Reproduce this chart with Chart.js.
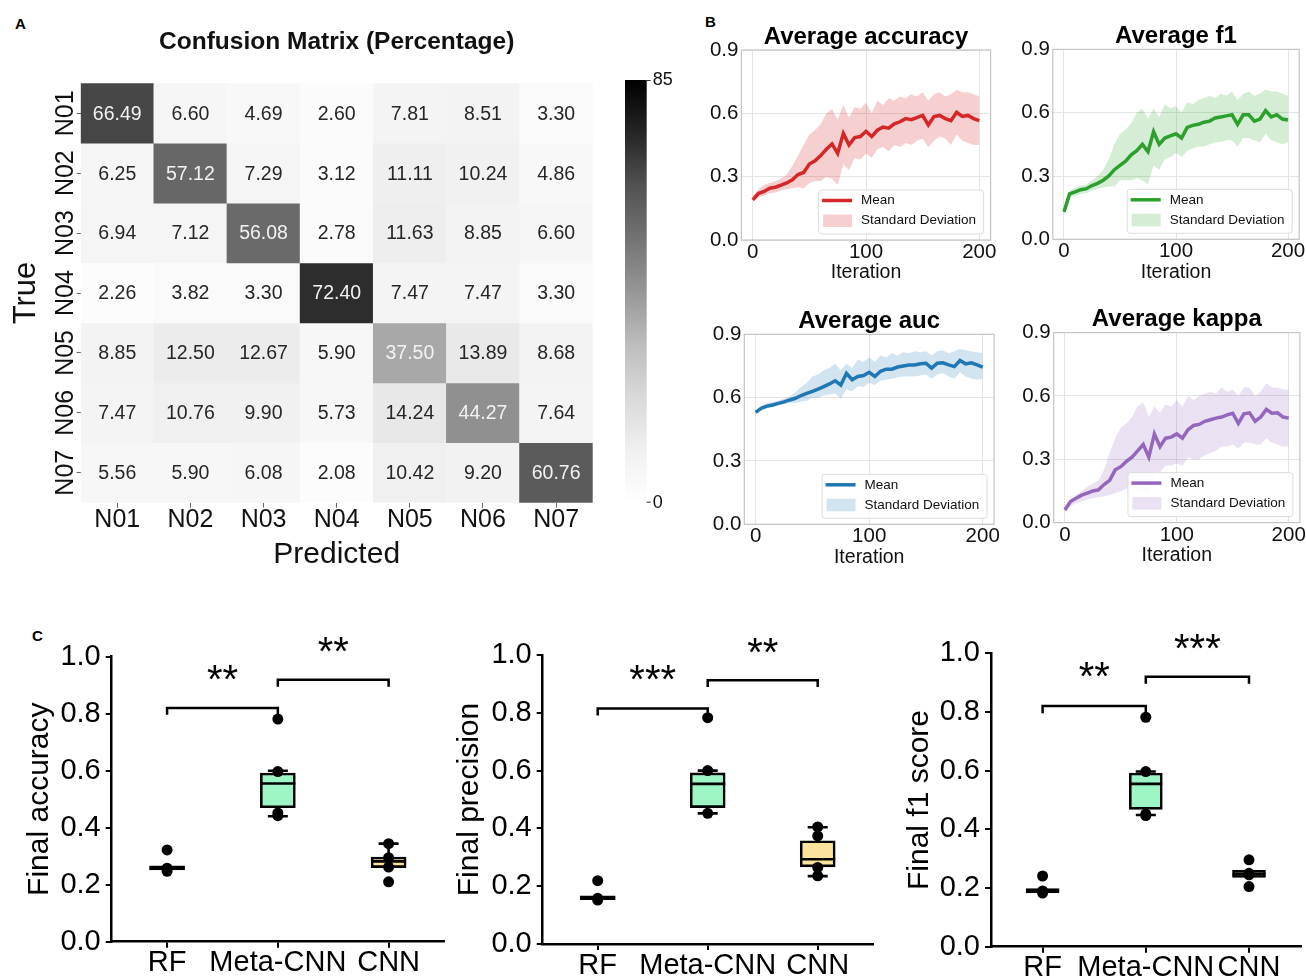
<!DOCTYPE html>
<html><head><meta charset="utf-8"><title>Figure</title>
<script src="https://cdn.jsdelivr.net/npm/chart.js@4.4.1/dist/chart.umd.min.js"></script>
<style>
html,body{margin:0;padding:0;background:#fff}
body{width:1306px;height:978px;position:relative;overflow:hidden;font-family:'Liberation Sans',Arial,sans-serif}
canvas{position:absolute}
.pl{position:absolute;font-weight:bold;font-size:15px;color:#000;line-height:1}
</style></head><body>
<div class="pl" style="left:15px;top:16px">A</div>
<div class="pl" style="left:705px;top:14px">B</div>
<div class="pl" style="left:32px;top:628px">C</div>
<canvas id="cm" width="700" height="580" style="left:0;top:0"></canvas>
<canvas id="lAcc" width="300" height="288" style="left:700px;top:0"></canvas>
<canvas id="lF1" width="306" height="288" style="left:1000px;top:0"></canvas>
<canvas id="lAuc" width="300" height="288" style="left:700px;top:285px"></canvas>
<canvas id="lKap" width="306" height="286" style="left:1000px;top:285px"></canvas>
<canvas id="bAcc" width="445" height="353" style="left:0;top:625px"></canvas>
<canvas id="bPrec" width="435" height="353" style="left:445px;top:625px"></canvas>
<canvas id="bF1" width="426" height="353" style="left:880px;top:625px"></canvas>
<script>
// ---------------- DATA ----------------
const cmLabels = ['N01','N02','N03','N04','N05','N06','N07'];
const cmN01 = [66.49, 6.60, 4.69, 2.60, 7.81, 8.51, 3.30];
const cmN02 = [6.25, 57.12, 7.29, 3.12, 11.11, 10.24, 4.86];
const cmN03 = [6.94, 7.12, 56.08, 2.78, 11.63, 8.85, 6.60];
const cmN04 = [2.26, 3.82, 3.30, 72.40, 7.47, 7.47, 3.30];
const cmN05 = [8.85, 12.50, 12.67, 5.90, 37.50, 13.89, 8.68];
const cmN06 = [7.47, 10.76, 9.90, 5.73, 14.24, 44.27, 7.64];
const cmN07 = [5.56, 5.90, 6.08, 2.08, 10.42, 9.20, 60.76];
const cmRange = [0, 85];

const iterations = [0,5,10,15,20,25,30,35,40,45,50,55,60,65,70,75,80,85,90,95,100,105,110,115,120,125,130,135,140,145,150,155,160,165,170,175,180,185,190,195,200];
const iterTicks = [0,100,200];
const metricTicks = [0,0.3,0.6,0.9];

const accMean  = [0.19,0.22,0.23,0.245,0.25,0.26,0.27,0.285,0.31,0.32,0.36,0.375,0.40,0.43,0.455,0.41,0.505,0.45,0.485,0.49,0.515,0.49,0.52,0.535,0.53,0.55,0.56,0.575,0.57,0.58,0.59,0.545,0.585,0.59,0.575,0.565,0.605,0.585,0.59,0.575,0.565];
const accUpper = [0.21,0.24,0.26,0.27,0.28,0.29,0.31,0.35,0.40,0.45,0.50,0.52,0.55,0.60,0.62,0.57,0.64,0.58,0.63,0.62,0.65,0.60,0.66,0.64,0.67,0.66,0.68,0.67,0.69,0.68,0.70,0.66,0.69,0.70,0.68,0.69,0.71,0.70,0.70,0.69,0.68];
const accLower = [0.18,0.20,0.21,0.22,0.225,0.235,0.24,0.245,0.25,0.245,0.27,0.28,0.28,0.30,0.29,0.26,0.36,0.33,0.39,0.38,0.41,0.39,0.43,0.44,0.42,0.45,0.44,0.46,0.45,0.47,0.48,0.44,0.47,0.49,0.48,0.45,0.50,0.47,0.46,0.45,0.45];

const f1Mean  = [0.13,0.215,0.225,0.235,0.24,0.255,0.265,0.28,0.30,0.33,0.35,0.37,0.40,0.42,0.45,0.415,0.51,0.45,0.48,0.49,0.50,0.48,0.53,0.54,0.545,0.555,0.56,0.575,0.58,0.585,0.59,0.545,0.59,0.59,0.56,0.57,0.61,0.58,0.59,0.57,0.565];
const f1Upper = [0.14,0.23,0.245,0.255,0.26,0.28,0.30,0.33,0.38,0.45,0.50,0.52,0.55,0.60,0.62,0.57,0.62,0.58,0.64,0.62,0.63,0.60,0.65,0.64,0.66,0.67,0.68,0.67,0.69,0.68,0.70,0.66,0.69,0.70,0.68,0.69,0.71,0.70,0.70,0.69,0.68];
const f1Lower = [0.12,0.20,0.205,0.215,0.22,0.23,0.24,0.245,0.25,0.25,0.28,0.28,0.28,0.29,0.28,0.26,0.35,0.33,0.38,0.39,0.41,0.39,0.42,0.43,0.44,0.44,0.45,0.46,0.46,0.47,0.47,0.44,0.48,0.48,0.47,0.46,0.50,0.47,0.46,0.45,0.46];

const aucMean  = [0.53,0.55,0.56,0.565,0.573,0.58,0.589,0.597,0.61,0.62,0.63,0.64,0.652,0.665,0.68,0.66,0.715,0.685,0.70,0.705,0.72,0.70,0.725,0.735,0.735,0.745,0.75,0.755,0.755,0.76,0.763,0.74,0.763,0.765,0.755,0.747,0.776,0.76,0.765,0.755,0.745];
const aucUpper = [0.54,0.56,0.575,0.58,0.585,0.595,0.605,0.625,0.65,0.67,0.70,0.71,0.73,0.74,0.76,0.73,0.76,0.74,0.78,0.77,0.79,0.77,0.80,0.79,0.81,0.80,0.815,0.81,0.82,0.815,0.82,0.80,0.82,0.825,0.81,0.82,0.83,0.825,0.82,0.815,0.81];
const aucLower = [0.52,0.54,0.55,0.555,0.565,0.57,0.575,0.575,0.58,0.585,0.60,0.60,0.61,0.615,0.62,0.595,0.64,0.63,0.655,0.65,0.67,0.66,0.68,0.685,0.69,0.695,0.70,0.70,0.70,0.705,0.71,0.69,0.71,0.715,0.70,0.69,0.72,0.70,0.69,0.685,0.69];

const kapMean  = [0.06,0.10,0.115,0.13,0.14,0.15,0.155,0.18,0.20,0.25,0.265,0.29,0.31,0.34,0.37,0.31,0.42,0.36,0.40,0.405,0.42,0.40,0.44,0.46,0.465,0.48,0.487,0.495,0.50,0.51,0.518,0.47,0.515,0.52,0.48,0.50,0.536,0.518,0.52,0.50,0.495];
const kapUpper = [0.07,0.11,0.13,0.15,0.17,0.185,0.20,0.25,0.33,0.40,0.45,0.47,0.50,0.55,0.57,0.50,0.55,0.52,0.56,0.55,0.58,0.55,0.60,0.58,0.60,0.61,0.62,0.61,0.64,0.62,0.63,0.60,0.64,0.64,0.60,0.62,0.66,0.64,0.64,0.63,0.63];
const kapLower = [0.05,0.08,0.09,0.10,0.11,0.115,0.12,0.125,0.13,0.14,0.15,0.16,0.17,0.16,0.15,0.14,0.24,0.24,0.27,0.27,0.28,0.27,0.31,0.30,0.30,0.32,0.33,0.34,0.36,0.36,0.37,0.35,0.38,0.38,0.37,0.37,0.40,0.38,0.37,0.36,0.36];

const boxGroups = ['RF','Meta-CNN','CNN'];
const boxYTicks = [0,0.2,0.4,0.6,0.8,1.0];

const accQ1 = [0.252,0.470,0.260], accMed = [0.258,0.555,0.282], accQ3 = [0.266,0.592,0.297];
const accLo = [0.252,0.440,0.260], accHi = [0.266,0.600,0.344];
const accPtsRF = [0.322,0.258,0.247], accPtsMeta = [0.781,0.597,0.452,0.442], accPtsCNN = [0.344,0.295,0.262,0.210];
const accSig = ['**','**'], accSigY = [0.82,0.919], accStarY = [0.93,1.03];

const precQ1 = [0.153,0.472,0.267], precMed = [0.160,0.554,0.293], precQ3 = [0.167,0.592,0.357];
const precLo = [0.153,0.452,0.235], precHi = [0.167,0.600,0.404];
const precPtsRF = [0.219,0.158,0.152], precPtsMeta = [0.783,0.600,0.452], precPtsCNN = [0.405,0.374,0.265,0.236];
const precSig = ['***','**'], precSigY = [0.815,0.913], precStarY = [0.925,1.02];

const f1Q1 = [0.183,0.468,0.236], f1Med = [0.190,0.555,0.247], f1Q3 = [0.198,0.592,0.260];
const f1Lo = [0.183,0.449,0.236], f1Hi = [0.198,0.597,0.260];
const f1PtsRF = [0.241,0.190,0.183], f1PtsMeta = [0.782,0.597,0.452,0.447], f1PtsCNN = [0.296,0.250,0.245,0.205];
const f1Sig = ['**','***'], f1SigY = [0.82,0.92], f1StarY = [0.932,1.026];

// ---------------- STYLE ----------------
Chart.defaults.font.family = "'Liberation Sans', Arial, Helvetica, sans-serif";
Chart.defaults.color = '#111';
const FONT = "'Liberation Sans', Arial, Helvetica, sans-serif";
const greyStops = [[0,255],[0.125,240],[0.25,217],[0.375,189],[0.5,150],[0.625,115],[0.75,82],[0.875,37],[1,0]];
function greyFor(v){
  const t = Math.max(0, Math.min(1, (v - cmRange[0])/(cmRange[1]-cmRange[0])));
  for (let i=1;i<greyStops.length;i++){
    if (t <= greyStops[i][0]){
      const a = greyStops[i-1], b = greyStops[i];
      const f = (t-a[0])/(b[0]-a[0]);
      const g = Math.round(a[1] + f*(b[1]-a[1]));
      return `rgb(${g},${g},${g})`;
    }
  }
  return 'rgb(0,0,0)';
}

// ---------------- HEATMAP ----------------
(function(){
  const rows = [cmN01,cmN02,cmN03,cmN04,cmN05,cmN06,cmN07];
  const C = {x:0,y:0,w:700,h:580}, A = {l:80.7,r:592.7,t:83.3,b:502.7};
  const padL = 4;
  const cellText = {
    id:'cellText',
    afterDatasetsDraw(chart){
      const {ctx, scales:{x, y}} = chart;
      ctx.save();
      ctx.font = `19.5px ${FONT}`; ctx.textAlign='center'; ctx.textBaseline='middle';
      rows.forEach((row,r)=>row.forEach((v,c)=>{
        ctx.fillStyle = v > 30 ? '#f2f2f2' : '#262626';
        ctx.fillText(v.toFixed(2), x.getPixelForValue(c), y.getPixelForValue(r+0.5)+1);
      }));
      ctx.restore();
    }
  };
  const extras = {
    id:'cmExtras',
    afterDraw(chart){
      const {ctx, chartArea:ca, scales:{y}} = chart;
      ctx.save();
      ctx.fillStyle='#111'; ctx.font=`25px ${FONT}`; ctx.textAlign='center'; ctx.textBaseline='middle';
      cmLabels.forEach((lab,i)=>{
        ctx.save(); ctx.translate(ca.left-16, y.getPixelForValue(i+0.5)); ctx.rotate(-Math.PI/2);
        ctx.fillText(lab,0,1); ctx.restore();
      });
      ctx.font=`bold 24.5px ${FONT}`; ctx.fillStyle='#111';
      ctx.fillText('Confusion Matrix (Percentage)', (ca.left+ca.right)/2, 42);
      const bx = ca.right + 32.3, bw = 21.7, top = 80, bot = ca.bottom;
      const g = ctx.createLinearGradient(0, bot, 0, top);
      greyStops.forEach(s=>g.addColorStop(s[0], `rgb(${s[1]},${s[1]},${s[1]})`));
      ctx.fillStyle = g; ctx.fillRect(bx, top, bw, bot-top);
      ctx.strokeStyle='#333'; ctx.lineWidth=1;
      ctx.beginPath(); ctx.moveTo(bx+bw, top+0.5); ctx.lineTo(bx+bw+4, top+0.5);
      ctx.moveTo(bx+bw, bot-0.5); ctx.lineTo(bx+bw+4, bot-0.5); ctx.stroke();
      ctx.fillStyle='#111'; ctx.font=`18px ${FONT}`; ctx.textAlign='left';
      ctx.fillText(String(cmRange[1]), bx+bw+6, top);
      ctx.fillText(String(cmRange[0]), bx+bw+6, bot);
      ctx.restore();
    }
  };
  new Chart(document.getElementById('cm'), {
    type:'bar',
    data:{
      labels: cmLabels,
      datasets: rows.map((row,r)=>({
        label: cmLabels[r],
        data: row.map(()=>[r, r+1]),
        backgroundColor: row.map(greyFor),
        borderWidth:0, barPercentage:1, categoryPercentage:1, grouped:false
      }))
    },
    options:{
      responsive:false, animation:false, devicePixelRatio:1,
      layout:{padding:{left:padL, top:A.t-C.y, right:C.x+C.w-A.r, bottom:0}, autoPadding:false},
      plugins:{legend:{display:false}, tooltip:{enabled:false}},
      scales:{
        x:{type:'category', offset:true,
           grid:{offset:false, drawOnChartArea:false, tickLength:5, color:'#666'}, border:{display:false},
           ticks:{font:{size:25, lineHeight:1}, color:'#111', padding:0, maxRotation:0},
           title:{display:true, text:'Predicted', font:{size:30}, color:'#111', padding:{top:0,bottom:7}},
           afterFit:s=>{s.height = C.y+C.h-A.b;}},
        y:{type:'linear', min:0, max:7, reverse:true,
           afterBuildTicks:s=>{s.ticks = cmLabels.map((_,i)=>({value:i+0.5}));},
           ticks:{display:false},
           grid:{drawOnChartArea:false, tickLength:4, color:'#666'}, border:{display:false},
           title:{display:true, text:'True', font:{size:31}, color:'#111', padding:{top:4,bottom:4}},
           afterFit:s=>{s.width = A.l - C.x - padL;}}
      }
    },
    plugins:[cellText, extras]
  });
})();

// ---------------- LINE CHARTS ----------------
function lineChart(id, C, A, title, mean, upper, lower, color, band){
  const frame = { id:'frame', afterDraw(chart){
      const {ctx, chartArea:ca} = chart; ctx.save();
      ctx.strokeStyle='#c4c4c4'; ctx.lineWidth=1.2;
      ctx.strokeRect(ca.left, ca.top, ca.right-ca.left, ca.bottom-ca.top);
      ctx.font=`bold 24px ${FONT}`; ctx.fillStyle='#000'; ctx.textAlign='center'; ctx.textBaseline='middle';
      ctx.fillText(title, (ca.left+ca.right)/2, ca.top-13);
      const w=165, h=44, x=ca.right-7.5-w, y=ca.bottom-6.5-h;
      ctx.beginPath(); ctx.roundRect(x+0.5, y+0.5, w, h, 3);
      ctx.fillStyle='rgba(255,255,255,0.85)'; ctx.fill();
      ctx.strokeStyle='#dcdcdc'; ctx.lineWidth=1; ctx.stroke();
      ctx.strokeStyle=color; ctx.lineWidth=3.5;
      ctx.beginPath(); ctx.moveTo(x+4, y+11); ctx.lineTo(x+34, y+11); ctx.stroke();
      ctx.fillStyle=band; ctx.fillRect(x+5, y+25, 29, 12.5);
      ctx.fillStyle='#111'; ctx.font=`13.5px ${FONT}`; ctx.textAlign='left';
      ctx.fillText('Mean', x+43, y+11);
      ctx.fillText('Standard Deviation', x+43, y+31);
      ctx.restore();
  }};
  const pts = arr => iterations.map((it,i)=>({x:it, y:arr[i]}));
  return new Chart(document.getElementById(id), {
    type:'line',
    data:{datasets:[
      {label:'Mean', data:pts(mean), borderColor:color, borderWidth:3.5, pointRadius:0, fill:false, order:0, tension:0},
      {label:'Standard Deviation', data:pts(upper), borderWidth:0, borderColor:'rgba(0,0,0,0)', pointRadius:0, fill:'+1', backgroundColor:band, order:1},
      {label:'lower', data:pts(lower), borderWidth:0, borderColor:'rgba(0,0,0,0)', pointRadius:0, fill:false, order:2}
    ]},
    options:{
      responsive:false, animation:false, devicePixelRatio:1,
      layout:{padding:{left:0, top:A.t-C.y, right:C.x+C.w-A.r, bottom:0}, autoPadding:false},
      plugins:{legend:{display:false}, tooltip:{enabled:false}},
      scales:{
        x:{type:'linear', min:-10, max:210,
           afterBuildTicks:s=>{s.ticks = iterTicks.map(v=>({value:v}));},
           grid:{color:'#e4e4e4', drawTicks:false}, border:{display:false},
           ticks:{font:{size:20.5}, color:'#111', padding:0, maxRotation:0},
           title:{display:true, text:'Iteration', font:{size:19.5}, color:'#111', padding:{top:0,bottom:4}},
           afterFit:s=>{s.height = C.y+C.h-A.b;}},
        y:{type:'linear', min:0, max:0.9,
           afterBuildTicks:s=>{s.ticks = metricTicks.map(v=>({value:v}));},
           grid:{color:'#e4e4e4', drawTicks:false}, border:{display:false},
           ticks:{font:{size:20.5}, color:'#111', padding:3, callback:v=>v.toFixed(1)},
           afterFit:s=>{s.width = A.l - C.x;}}
      }
    },
    plugins:[frame]
  });
}
lineChart('lAcc', {x:700,y:0,w:300,h:288}, {l:741.4,r:990.6,t:50,b:240}, 'Average accuracy', accMean, accUpper, accLower, '#d62728', 'rgba(214,39,40,0.22)');
lineChart('lF1', {x:1000,y:0,w:306,h:288}, {l:1052.8,r:1299.2,t:49.4,b:239.3}, 'Average f1', f1Mean, f1Upper, f1Lower, '#2ca02c', 'rgba(44,160,44,0.2)');
lineChart('lAuc', {x:700,y:285,w:300,h:288}, {l:744.3,r:995.7,t:334.3,b:524.3}, 'Average auc', aucMean, aucUpper, aucLower, '#1f77b4', 'rgba(31,119,180,0.2)');
lineChart('lKap', {x:1000,y:285,w:306,h:286}, {l:1053.7,r:1301.7,t:332.6,b:522.6}, 'Average kappa', kapMean, kapUpper, kapLower, '#9467bd', 'rgba(148,103,189,0.2)');

// ---------------- BOX PLOTS ----------------
function boxChart(id, C, A, padL, yTitle, q1, med, q3, lo, hi, ptsRF, ptsMeta, ptsCNN, sig, sigY, starY, boxW){
  const groups = [ptsRF, ptsMeta, ptsCNN];
  const points = groups.flatMap((arr,gi)=>arr.map(v=>({x:boxGroups[gi], y:v})));
  const boxExtras = { id:'boxExtras', afterDatasetDraw(chart, args){
      if (args.index !== 1) return;
      const {ctx, scales:{y}} = chart; const meta = chart.getDatasetMeta(1);
      ctx.save(); ctx.strokeStyle='#000'; ctx.lineWidth=2.6; ctx.lineCap='butt';
      meta.data.forEach((bar,i)=>{
        const x = bar.x, hw = bar.width/2, cap = 10;
        ctx.beginPath();
        ctx.moveTo(x-hw, y.getPixelForValue(med[i])); ctx.lineTo(x+hw, y.getPixelForValue(med[i]));
        if (hi[i] > q3[i]) {
          ctx.moveTo(x, y.getPixelForValue(q3[i])); ctx.lineTo(x, y.getPixelForValue(hi[i]));
          ctx.moveTo(x-cap, y.getPixelForValue(hi[i])); ctx.lineTo(x+cap, y.getPixelForValue(hi[i]));
        }
        if (lo[i] < q1[i]) {
          ctx.moveTo(x, y.getPixelForValue(q1[i])); ctx.lineTo(x, y.getPixelForValue(lo[i]));
          ctx.moveTo(x-cap, y.getPixelForValue(lo[i])); ctx.lineTo(x+cap, y.getPixelForValue(lo[i]));
        }
        ctx.stroke();
      });
      ctx.restore();
  }};
  const brackets = { id:'brackets', afterDraw(chart){
      const {ctx, scales:{x, y}} = chart;
      ctx.save(); ctx.strokeStyle='#000'; ctx.lineWidth=2.5; ctx.fillStyle='#000';
      sig.forEach((s,j)=>{
        const x1 = x.getPixelForValue(j), x2 = x.getPixelForValue(j+1);
        const yt = y.getPixelForValue(sigY[j]), yd = y.getPixelForValue(sigY[j]-0.024);
        ctx.beginPath(); ctx.moveTo(x1,yd); ctx.lineTo(x1,yt); ctx.lineTo(x2,yt); ctx.lineTo(x2,yd); ctx.stroke();
        const fs = 40;
        ctx.font = `${fs}px ${FONT}`; ctx.textAlign='center'; ctx.textBaseline='alphabetic';
        ctx.fillText(s, (x1+x2)/2, y.getPixelForValue(starY[j]) + 0.42*fs);
      });
      ctx.restore();
  }};
  return new Chart(document.getElementById(id), {
    type:'bar',
    data:{labels:boxGroups, datasets:[
      {type:'line', label:'points', data:points, showLine:false, pointRadius:5.5, pointHoverRadius:5.5,
       pointBackgroundColor:'#000', pointBorderColor:'#000', pointBorderWidth:0, order:0},
      {type:'bar', label:'box', data:q1.map((v,i)=>[v,q3[i]]),
       backgroundColor:['#222222','#9ef6c6','#fbe39d'], borderColor:'#000', borderWidth:2.6,
       borderSkipped:false, barThickness:boxW, order:1}
    ]},
    options:{
      responsive:false, animation:false, devicePixelRatio:1,
      layout:{padding:{left:padL, top:A.t-C.y, right:C.x+C.w-A.r, bottom:0}, autoPadding:false},
      plugins:{legend:{display:false}, tooltip:{enabled:false}},
      scales:{
        x:{type:'category', offset:true,
           grid:{offset:false, drawOnChartArea:false, tickLength:6, color:'#000', lineWidth:2},
           border:{color:'#000', width:2.5},
           ticks:{font:{size:29, lineHeight:1}, color:'#000', padding:1, maxRotation:0, autoSkip:false},
           afterFit:s=>{s.height = C.y+C.h-A.b;}},
        y:{type:'linear', min:0, max:1,
           afterBuildTicks:s=>{s.ticks = boxYTicks.map(v=>({value:v}));},
           grid:{drawOnChartArea:false, tickLength:6, color:'#000', lineWidth:2},
           border:{color:'#000', width:2.5},
           ticks:{font:{size:29}, color:'#000', padding:5, callback:v=>v.toFixed(1)},
           title:{display:true, text:yTitle, font:{size:30}, color:'#000', padding:{top:4,bottom:4}},
           afterFit:s=>{s.width = A.l - C.x - padL;}}
      }
    },
    plugins:[boxExtras, brackets]
  });
}
boxChart('bAcc', {x:0,y:625,w:445,h:353}, {l:111.7,r:444,t:656.7,b:941.7}, 17.7, 'Final accuracy',
  accQ1, accMed, accQ3, accLo, accHi, accPtsRF, accPtsMeta, accPtsCNN, accSig, accSigY, accStarY, 35);
boxChart('bPrec', {x:445,y:625,w:435,h:353}, {l:542.7,r:872.7,t:655,b:944}, 3, 'Final precision',
  precQ1, precMed, precQ3, precLo, precHi, precPtsRF, precPtsMeta, precPtsCNN, precSig, precSigY, precStarY, 35);
boxChart('bF1', {x:880,y:625,w:426,h:353}, {l:991,r:1300.6,t:653.3,b:946.7}, 18, 'Final f1 score',
  f1Q1, f1Med, f1Q3, f1Lo, f1Hi, f1PtsRF, f1PtsMeta, f1PtsCNN, f1Sig, f1SigY, f1StarY, 33);
</script>
</body></html>
